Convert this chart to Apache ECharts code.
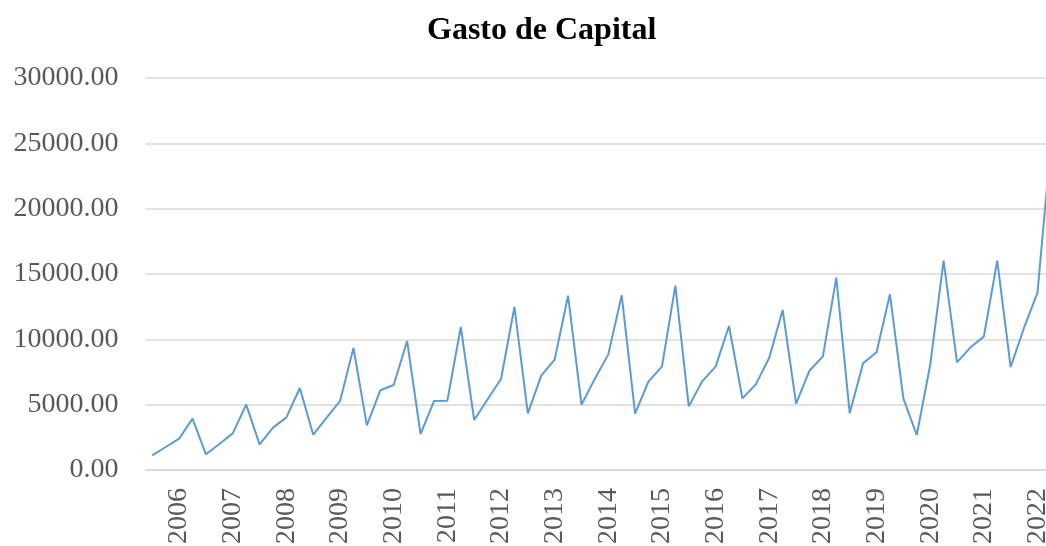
<!DOCTYPE html>
<html>
<head>
<meta charset="utf-8">
<script src="https://cdn.jsdelivr.net/npm/echarts@6/dist/echarts.min.js"></script>
<style>
  html, body { margin: 0; padding: 0; background: #fff; }
  #main { width: 1046px; height: 546px; }
</style>
</head>
<body>
<div id="main"></div>
<script>
// trimestres, de 2005-T3 a 2022-T2
var years = [2005, 2006, 2007, 2008, 2009, 2010, 2011, 2012, 2013, 2014, 2015, 2016, 2017, 2018, 2019, 2020, 2021, 2022];
var quarters = [];
years.forEach(function (y) {
  for (var q = 1; q <= 4; q++) {
    if ((y === 2005 && q < 3) || (y === 2022 && q > 2)) continue;
    quarters.push(y + '-T' + q);
  }
});

var gasto = [
  1125, 1760, 2395, 3930,
  1200, 1990, 2805, 5000,
  1965, 3240, 4030, 6275,
  2705, 4000, 5280, 9335,
  3420, 6100, 6505, 9870,
  2740, 5280, 5300, 10945,
  3825, 5410, 6965, 12475,
  4335, 7220, 8445, 13340,
  5000, 6990, 8850, 13370,
  4310, 6785, 7910, 14105,
  4870, 6785, 7910, 11020,
  5485, 6555, 8595, 12245,
  5075, 7600, 8700, 14720,
  4335, 8165, 9005, 13445,
  5485, 2680, 8035, 16020,
  8240, 9390, 10205, 16020,
  7880, 10890, 13570, 25000
];

var serif = "'Liberation Serif', 'Times New Roman', serif";

var myChart = echarts.init(document.getElementById('main'));
var option = {
  animation: false,
  title: {
    text: 'Gasto de Capital',
    left: 422,
    top: 10,
    textStyle: { fontFamily: serif, fontSize: 32, fontWeight: 'bold', color: '#000' }
  },
  grid: {
    left: 145.6, top: 78, width: 912, height: 392,
    containLabel: false, outerBoundsMode: 'none'
  },
  xAxis: {
    type: 'category',
    data: quarters,
    boundaryGap: true,
    axisLine: { lineStyle: { color: '#d9d9d9', width: 1.5 } },
    axisTick: { show: false },
    axisLabel: {
      rotate: 90,
      margin: 18,
      padding: [0, 0, 10, 0],
      interval: function (index) { return index % 4 === 2; },
      formatter: function (v) { return v.split('-')[0]; },
      fontFamily: serif,
      fontSize: 28,
      color: '#595959'
    }
  },
  yAxis: {
    type: 'value',
    min: 0,
    max: 30000,
    interval: 5000,
    axisLine: { show: false },
    axisTick: { show: false },
    splitLine: { lineStyle: { color: '#d9d9d9', width: 1.5 } },
    axisLabel: {
      margin: 27,
      formatter: function (v) { return v.toFixed(2); },
      fontFamily: serif,
      fontSize: 28,
      color: '#595959'
    }
  },
  series: [{
    name: 'Gasto de Capital',
    type: 'line',
    data: gasto,
    symbol: 'none',
    clip: false,
    lineStyle: { color: '#5b9bd5', width: 2 }
  }]
};
myChart.setOption(option);
</script>
</body>
</html>
